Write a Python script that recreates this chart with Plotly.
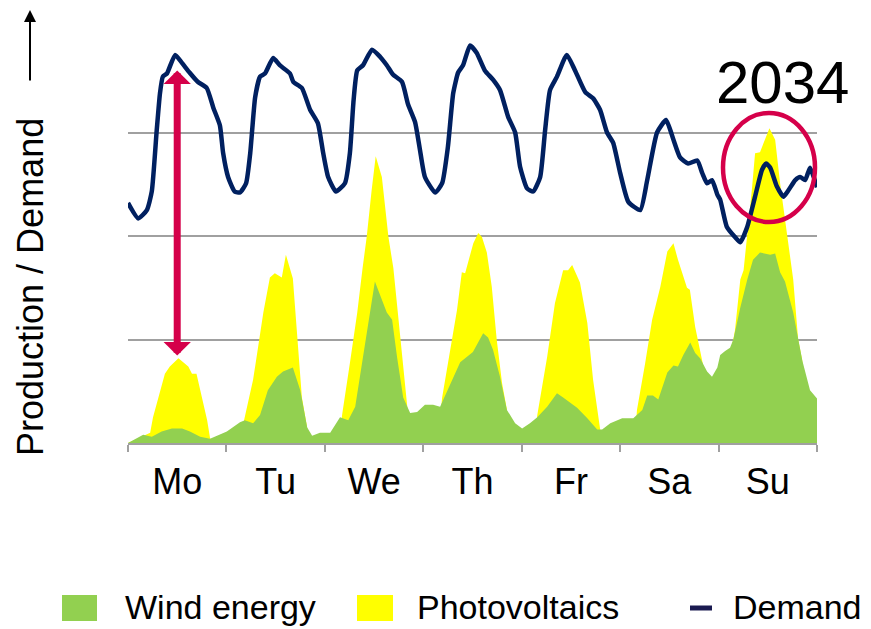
import plotly.graph_objects as go

# ---- data (hours of the week, relative units) ----
days = ["Mo", "Tu", "We", "Th", "Fr", "Sa", "Su"]

demand_h = [0, 2.5, 4.6, 5.8, 7.0, 7.8, 8.5, 9.5, 11.5, 13.2, 15.0, 17.0, 19.2, 20.8, 22.4, 23.2,
            24.4, 26.0, 27.3, 28.8, 29.8, 31.0, 32.2, 33.4, 35.4, 37.0, 39.5, 40.3, 42.4, 44.4, 46.3, 47.6,
            48.8, 50.7, 52.9, 54.1, 55.0, 55.9, 57.3, 59.5, 61.5, 63.1, 64.6, 66.8, 68.3, 70.0, 71.2,
            72.4, 74.9, 76.6, 78.0, 79.3, 80.5, 81.7, 83.4, 85.0, 87.0, 89.0, 90.7, 92.7, 94.4, 95.6,
            97.3, 98.8, 100.5, 101.7, 102.9, 104.6, 107.0, 109.0, 111.5, 113.4, 115.1, 116.8, 118.3,
            120.0, 122.0, 124.9, 126.6, 129.0, 131.2, 133.0, 134.6, 136.6, 138.8, 140.0, 141.2, 142.4,
            143.7, 144.4, 146.0, 148.0, 149.3, 151.0, 152.9, 154.6, 155.6, 156.6, 158.2, 159.8, 161.0,
            162.7, 163.9, 165.1, 166.3, 167.2, 168.0]
demand = [2.32, 2.17, 2.25, 2.43, 3.02, 3.38, 3.54, 3.57, 3.75, 3.67, 3.58, 3.49, 3.43, 3.24, 3.07, 2.80,
          2.57, 2.43, 2.42, 2.51, 2.80, 3.34, 3.54, 3.57, 3.72, 3.65, 3.57, 3.49, 3.43, 3.22, 3.09, 2.80,
          2.57, 2.43, 2.51, 2.80, 3.31, 3.60, 3.65, 3.80, 3.73, 3.65, 3.56, 3.49, 3.27, 3.10, 2.83,
          2.57, 2.42, 2.51, 2.86, 3.38, 3.58, 3.65, 3.84, 3.77, 3.60, 3.51, 3.41, 3.15, 3.00, 2.67,
          2.46, 2.43, 2.57, 3.02, 3.41, 3.54, 3.75, 3.60, 3.39, 3.33, 3.22, 3.00, 2.90,
          2.61, 2.33, 2.25, 2.54, 3.00, 3.12, 2.93, 2.76, 2.70, 2.73, 2.61, 2.51, 2.54,
          2.40, 2.35, 2.09, 1.99, 1.94, 2.09, 2.38, 2.64, 2.70, 2.66, 2.48, 2.38, 2.44,
          2.54, 2.57, 2.54, 2.66, 2.57, 2.47]

wind_h = [0, 0.5, 3.7, 5.8, 8.2, 10.7, 13.2, 15.1, 17.6, 20.0, 22.4, 24.1, 27.3, 28.5, 30.5, 32.2,
          34.1, 36.3, 37.8, 40.2, 42.0, 43.7, 44.9, 46.8, 49.3, 51.7, 53.7, 55.4, 57.3, 60.2, 63.1,
          64.4, 65.6, 67.1, 68.8, 70.5, 72.4, 74.4, 76.1, 78.0, 80.2, 81.0, 84.1, 86.6, 87.8, 89.0,
          90.7, 92.4, 94.4, 96.1, 98.0, 99.8, 102.2, 104.6, 106.1, 109.5, 112.0, 114.4, 115.6, 117.6,
          120.5, 123.2, 125.4, 126.6, 128.0, 129.3, 131.5, 133.0, 134.1, 135.4, 137.1, 138.3, 139.5,
          141.2, 142.4, 143.7, 144.4, 145.6, 146.8, 147.6, 149.3, 151.0, 152.4, 154.1, 156.6, 157.8,
          159.0, 160.2, 162.2, 164.4, 166.3, 168.0]
wind = [0.0, 0.01, 0.08, 0.06, 0.11, 0.14, 0.14, 0.11, 0.06, 0.04, 0.08, 0.11, 0.20, 0.22, 0.19, 0.27,
        0.51, 0.64, 0.69, 0.73, 0.51, 0.15, 0.07, 0.10, 0.10, 0.25, 0.22, 0.35, 0.83, 1.56, 1.26,
        1.19, 0.83, 0.44, 0.29, 0.30, 0.37, 0.37, 0.35, 0.51, 0.71, 0.78, 0.88, 1.06, 1.02, 0.90,
        0.64, 0.32, 0.19, 0.14, 0.19, 0.25, 0.35, 0.48, 0.44, 0.34, 0.24, 0.13, 0.13, 0.19,
        0.24, 0.24, 0.32, 0.46, 0.46, 0.42, 0.68, 0.75, 0.74, 0.85, 0.97, 0.87, 0.82,
        0.69, 0.64, 0.73, 0.85, 0.89, 0.92, 1.00, 1.31, 1.58, 1.77, 1.84, 1.82, 1.83,
        1.65, 1.56, 1.26, 0.80, 0.51, 0.43]

# top of the photovoltaics layer (wind + PV), where PV is visible
pv_top_h = [0, 4.0, 5.4, 6.1, 7.3, 9.0, 10.2, 12.3, 14.7, 15.6, 16.7, 18.0, 19.3, 20.0, 20.5,
            27.5, 28.3, 30.5, 33.0, 34.6, 35.8, 37.5, 38.5, 40.2, 41.2, 42.4, 43.9, 44.5,
            51.5, 52.2, 54.1, 55.9, 57.2, 58.2, 59.4, 60.4, 61.9, 63.5, 64.7, 66.3, 68.0, 69.0,
            75.5, 76.6, 79.0, 80.2, 81.4, 82.2, 84.2, 85.4, 86.3, 87.5, 88.7, 89.9, 91.2, 92.4, 93.0,
            99.0, 99.8, 102.2, 104.1, 106.1, 107.3, 108.3, 110.2, 112.0, 113.4, 115.1, 115.6,
            123.5, 124.1, 126.1, 127.8, 129.8, 131.5, 133.0, 134.1, 136.3, 137.0, 138.3, 139.5, 140.5, 141.0,
            147.6, 148.0, 149.3, 150.1, 150.9, 152.1, 152.9, 154.1, 156.4, 157.8, 159.0, 160.2, 161.5,
            162.2, 163.4, 164.4, 165.0, 168.0]
pv_top = [0, 0.08, 0.10, 0.25, 0.42, 0.67, 0.74, 0.82, 0.74, 0.67, 0.67, 0.44, 0.22, 0.05, 0,
          0, 0.22, 0.61, 1.26, 1.60, 1.64, 1.60, 1.82, 1.59, 1.09, 0.44, 0.10, 0,
          0, 0.27, 0.77, 1.26, 1.69, 1.99, 2.44, 2.77, 2.57, 1.99, 1.69, 1.09, 0.39, 0,
          0, 0.44, 1.00, 1.28, 1.65, 1.64, 1.93, 2.03, 1.99, 1.84, 1.51, 1.00, 0.58, 0.32, 0,
          0, 0.27, 0.83, 1.35, 1.67, 1.67, 1.72, 1.55, 1.16, 0.61, 0.15, 0,
          0, 0.32, 0.77, 1.19, 1.51, 1.85, 1.93, 1.77, 1.50, 1.48, 1.12, 0.90, 0.70, 0,
          1.00, 1.09, 1.58, 1.67, 1.96, 2.44, 2.80, 2.81, 3.04, 2.93, 2.51, 2.18, 1.80,
          1.58, 1.00, 0.80, 0, 0]

# ---- styling ----
OFF = 8  # page body margin of the html output
W, H = 871 - OFF, 629 - OFF
L, T = 128 - OFF, 29 - OFF
R = W - (817 - OFF)
B = H - (443 - OFF)
PW, PH = W - L - R, H - T - B
FONT = "Arial, Liberation Sans, sans-serif"
GREEN, YELLOW, NAVY, RED = "#92D050", "#FFFF00", "#002060", "#D5004A"


def px(xp):
    """window pixel x -> paper fraction"""
    return (xp - OFF - L) / PW


def py(yp):
    """window pixel y -> paper fraction"""
    return (H - B - (yp - OFF)) / PH


fig = go.Figure()
fig.add_trace(go.Scatter(x=pv_top_h, y=pv_top, mode="lines", fill="tozeroy",
                         line=dict(width=0, color=YELLOW), fillcolor=YELLOW,
                         name="Photovoltaics", showlegend=False))
fig.add_trace(go.Scatter(x=wind_h, y=wind, mode="lines", fill="tozeroy",
                         line=dict(width=0, color=GREEN), fillcolor=GREEN,
                         name="Wind energy", showlegend=False))
fig.add_trace(go.Scatter(x=demand_h, y=demand, mode="lines",
                         line=dict(width=4.5, color=NAVY, shape="spline", smoothing=0.5),
                         name="Demand", showlegend=False))

fig.update_layout(
    width=W, height=H, autosize=False,
    margin=dict(l=L, r=R, t=T, b=B, pad=0),
    paper_bgcolor="white", plot_bgcolor="white",
    font=dict(family=FONT, color="black"),
    showlegend=False,
    xaxis=dict(range=[0, 168], showgrid=False, zeroline=False,
               showline=True, linecolor="#A0A0A0", linewidth=2,
               tickmode="array", tickvals=[12 + 24 * i for i in range(7)], ticktext=days,
               ticks="", tickfont=dict(size=36, family=FONT, color="black"),
               ticklabelstandoff=6,
               minor=dict(tickmode="array", tickvals=[24 * i for i in range(8)],
                          ticks="outside", ticklen=7, tickcolor="#A0A0A0", tickwidth=1.5,
                          showgrid=False)),
    yaxis=dict(range=[0, 4], showgrid=True, gridcolor="#A0A0A0", gridwidth=2,
               tickmode="array", tickvals=[1, 2, 3, 4], showticklabels=False,
               zeroline=False, showline=False, ticks=""),
)

ann = []
# y-axis title with arrow
ann.append(dict(xref="paper", yref="paper", x=px(30), y=py(287), text="Production / Demand",
                textangle=-90, showarrow=False, font=dict(size=36, family=FONT, color="black"),
                xanchor="center", yanchor="middle"))
ann.append(dict(xref="paper", yref="paper", x=px(30), y=py(10), text="", showarrow=True,
                ax=0, ay=72, arrowhead=2, arrowsize=1.2, arrowwidth=2, arrowcolor="black",
                standoff=0, startstandoff=0))
# red double arrow (Monday gap demand vs PV)
ann.append(dict(xref="x", yref="y", axref="x", ayref="y", x=12, y=3.60, ax=12, ay=0.83,
                text="", showarrow=True, arrowside="end+start", arrowhead=1, startarrowhead=1,
                arrowsize=0.65, startarrowsize=0.65, arrowwidth=7, arrowcolor=RED,
                standoff=0, startstandoff=0))
# 2034 label
ann.append(dict(xref="paper", yref="paper", x=px(782), y=py(82), text="2034", showarrow=False,
                font=dict(size=60, family=FONT, color="black"), xanchor="center", yanchor="middle"))
# legend texts
for xl, t in [(123, "Wind energy"), (415, "Photovoltaics"), (731, "Demand")]:
    ann.append(dict(xref="paper", yref="paper", x=px(xl), y=py(607), text=t, showarrow=False,
                    font=dict(size=34, family=FONT, color="black"), xanchor="left", yanchor="middle"))
fig.update_layout(annotations=ann)

shapes = [
    dict(type="circle", xref="paper", yref="paper", x0=px(723), x1=px(815), y0=py(222), y1=py(113),
         line=dict(color=RED, width=4.5)),
    dict(type="rect", xref="paper", yref="paper", x0=px(62), x1=px(97), y0=py(621), y1=py(595),
         fillcolor=GREEN, line=dict(width=0)),
    dict(type="rect", xref="paper", yref="paper", x0=px(357), x1=px(393), y0=py(621), y1=py(595),
         fillcolor=YELLOW, line=dict(width=0)),
    dict(type="line", xref="paper", yref="paper", x0=px(690), x1=px(712), y0=py(608), y1=py(608),
         line=dict(color="#1A1A50", width=5)),
]
fig.update_layout(shapes=shapes)

fig.write_html("out.html")
